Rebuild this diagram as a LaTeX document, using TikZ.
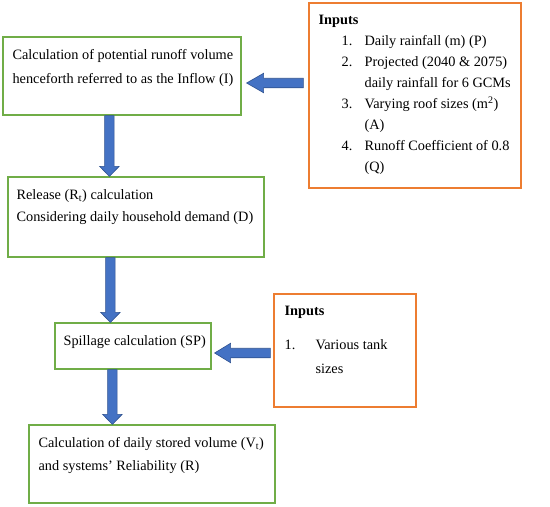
\documentclass[tikz,border=0pt]{standalone}
\usepackage{fontspec}
\setmainfont{Liberation Serif}
\usetikzlibrary{positioning,calc}

\definecolor{boxgreen}{HTML}{70AD47}
\definecolor{boxorange}{HTML}{ED7D31}
\definecolor{arrowfill}{HTML}{4472C4}
\definecolor{arrowedge}{HTML}{2F528F}

% block arrow from #2 to #3, head length #1 (pt)
\newcommand{\flowarrow}[3][10]{%
  \draw[blockarrow] let \p1=(#2), \p2=(#3),
    \n1={atan2(\y2-\y1,\x2-\x1)}, \n2={veclen(\x2-\x1,\y2-\y1)} in
    [shift={(\p1)}, rotate=\n1]
    (0pt,-4.75pt) -- ({\n2-#1pt},-4.75pt) -- ({\n2-#1pt},-9.75pt) -- (\n2,0pt)
    -- ({\n2-#1pt},9.75pt) -- ({\n2-#1pt},4.75pt) -- (0pt,4.75pt) -- cycle;}

\begin{document}
\begin{tikzpicture}[
  x=1pt, y=-1pt,
  every node/.style={font=\fontsize{14.3}{22}\selectfont},
  stepbox/.style={draw=boxgreen, line width=1.2pt},
  inputbox/.style={draw=boxorange, line width=1.2pt},
  steptext/.style={inner sep=0pt, align=left},
  blockarrow/.style={fill=arrowfill, draw=arrowedge, line width=0.6pt},
]
\useasboundingbox (0,0) rectangle (550,507);

% Steps
\node[stepbox, minimum width=238, minimum height=78] (inflow)  at (122,76)  {};
\node[stepbox, minimum width=256, minimum height=80] (release) at (136,217) {};
\node[stepbox, minimum width=156, minimum height=46] (spill)   at (133,346) {};
\node[stepbox, minimum width=246, minimum height=78] (store)   at (152,464) {};

% Inputs
\node[inputbox, minimum width=212, minimum height=185] (inputs)  at (415,95.5)  {};
\node[inputbox, minimum width=142, minimum height=113] (tanks)   at (345,350.5) {};

% Texts
\node[steptext, below right=13pt and 10pt of inflow.north west] (inflowtxt)
  {Calculation of potential runoff volume\\[2pt]henceforth referred to as the Inflow (I)};
\node[steptext, below right=13pt and 9pt of release.north west] (releasetxt)
  {Release (R\textsubscript{t}) calculation\\Considering daily household demand (D)};
\node[steptext, below right=13pt and 9pt of spill.north west] (spilltxt)
  {Spillage calculation (SP)};
\node[steptext, below right=13pt and 10pt of store.north west] (storetxt)
  {Calculation of daily stored volume (V\textsubscript{t})\\[1pt]and systems’ Reliability (R)};

\node[steptext, font=\fontsize{14.3}{21}\selectfont,
      below right=13pt and 10pt of inputs.north west] (inputstxt)
  {\textbf{Inputs}\\
   \hspace*{23pt}\makebox[23pt][l]{1.}Daily rainfall (m) (P)\\
   \hspace*{23pt}\makebox[23pt][l]{2.}Projected (2040 \& 2075)\\
   \hspace*{46pt}daily rainfall for 6 GCMs\\
   \hspace*{23pt}\makebox[23pt][l]{3.}Varying roof sizes (m\textsuperscript{2})\\
   \hspace*{46pt}(A)\\
   \hspace*{23pt}\makebox[23pt][l]{4.}Runoff Coefficient of 0.8\\
   \hspace*{46pt}(Q)};
\node[steptext, below right=13pt and 11pt of tanks.north west] (tankstxt)
  {\textbf{Inputs}\\[12pt]
   \makebox[31pt][l]{1.}Various tank\\[2pt]
   \hspace*{31pt}sizes};

% Arrows
\flowarrow[17]{$(inputs.west)+(-5,-12.5)$}{$(inflow.east)+(5,7)$}
\flowarrow{$(inflow.south west)+(107,0)$}{$(release.north west)+(102,0)$}
\flowarrow{$(release.south west)+(103,0)$}{$(spill.north west)+(56,0)$}
\flowarrow[16]{$(tanks.west)+(-3,2.5)$}{$(spill.east)+(3,7)$}
\flowarrow{$(spill.south west)+(58,0)$}{$(store.north west)+(84,0)$}

\end{tikzpicture}
\end{document}
